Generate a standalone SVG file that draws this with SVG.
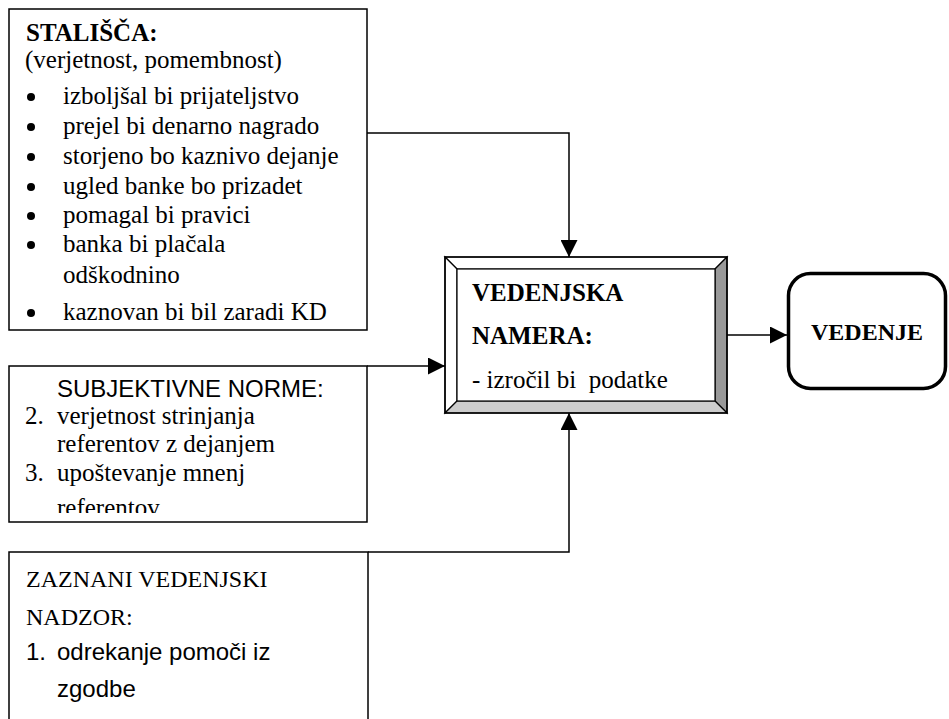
<svg xmlns="http://www.w3.org/2000/svg" width="949" height="719" viewBox="0 0 949 719">
  <style>
    .box { fill: #fff; stroke: #000; stroke-width: 1.5; }
    .serif { font-family: "Liberation Serif", "Times New Roman", serif; fill: #000; }
    .sans { font-family: "Liberation Sans", Arial, sans-serif; fill: #000; }
    .b { font-weight: bold; }
    .conn { fill: none; stroke: #000; stroke-width: 1.5; }
    .bevel { stroke: #000; stroke-width: 1.2; stroke-linejoin: miter; }
  </style>
  <defs>
    <marker id="arrow" viewBox="0 0 10 10" refX="10" refY="5" markerWidth="17" markerHeight="17" markerUnits="userSpaceOnUse" orient="auto">
      <path d="M0,0 L10,5 L0,10 Z" fill="#000"/>
    </marker>
    <clipPath id="clip2">
      <rect x="10" y="367" width="356" height="146"/>
    </clipPath>
  </defs>
  <rect width="949" height="719" fill="#fff"/>

  <g id="stalisca">
    <rect class="box" x="9" y="9" width="358" height="321"/>
    <text class="serif b" x="26" y="41" font-size="25">STALIŠČA:</text>
    <text class="serif" x="25" y="68" font-size="25">(verjetnost, pomembnost)</text>
    <g fill="#000">
      <circle cx="31" cy="97" r="4"/>
      <circle cx="31" cy="127" r="4"/>
      <circle cx="31" cy="157" r="4"/>
      <circle cx="31" cy="187" r="4"/>
      <circle cx="31" cy="216" r="4"/>
      <circle cx="31" cy="245" r="4"/>
      <circle cx="31" cy="313" r="4"/>
    </g>
    <g class="serif" font-size="25">
      <text x="63" y="104">izboljšal bi prijateljstvo</text>
      <text x="63" y="134">prejel bi denarno nagrado</text>
      <text x="63" y="164">storjeno bo kaznivo dejanje</text>
      <text x="63" y="194">ugled banke bo prizadet</text>
      <text x="63" y="223">pomagal bi pravici</text>
      <text x="63" y="252">banka bi plačala</text>
      <text x="63" y="283">odškodnino</text>
      <text x="63" y="320">kaznovan bi bil zaradi KD</text>
    </g>
  </g>

  <g id="subjektivne-norme">
    <rect class="box" x="9" y="366" width="358" height="156"/>
    <text class="sans" x="57" y="397" font-size="24">SUBJEKTIVNE NORME:</text>
    <g class="serif" font-size="25" clip-path="url(#clip2)">
      <text x="25" y="424">2.</text>
      <text x="57" y="424">verjetnost strinjanja</text>
      <text x="57" y="452">referentov z dejanjem</text>
      <text x="25" y="481">3.</text>
      <text x="57" y="481">upoštevanje mnenj</text>
      <text x="57" y="516">referentov</text>
    </g>
  </g>

  <g id="zaznani-nadzor">
    <rect class="box" x="9" y="552" width="359" height="200"/>
    <text class="serif" x="26" y="587" font-size="24">ZAZNANI VEDENJSKI</text>
    <text class="serif" x="26" y="625" font-size="24">NADZOR:</text>
    <text class="sans" x="26" y="660" font-size="24">1.</text>
    <text class="sans" x="57" y="660" font-size="24">odrekanje pomoči iz</text>
    <text class="sans" x="57" y="697" font-size="24">zgodbe</text>
  </g>

  <g id="vedenjska-namera">
    <rect x="445" y="257" width="282" height="156" fill="#fff"/>
    <polygon class="bevel" points="445,257 727,257 715,269 457,269" fill="#fff"/>
    <polygon class="bevel" points="445,257 457,269 457,401 445,413" fill="#fff"/>
    <polygon class="bevel" points="727,257 727,413 715,401 715,269" fill="#999"/>
    <polygon class="bevel" points="445,413 457,401 715,401 727,413" fill="#ccc"/>
    <rect x="457" y="269" width="258" height="132" fill="#fff" stroke="#000" stroke-width="1.2"/>
    <rect x="445" y="257" width="282" height="156" fill="none" stroke="#000" stroke-width="1.5"/>
    <text class="serif b" x="472" y="301" font-size="25">VEDENJSKA</text>
    <text class="serif b" x="472" y="344" font-size="25">NAMERA:</text>
    <text class="serif" x="472" y="388" font-size="25" xml:space="preserve">- izročil bi  podatke</text>
  </g>

  <g id="vedenje">
    <rect x="788.5" y="273.5" width="157" height="115" rx="22" ry="22" fill="#fff" stroke="#000" stroke-width="3.5"/>
    <text class="serif b" x="811" y="340" font-size="24">VEDENJE</text>
  </g>

  <g id="connectors">
    <polyline class="conn" points="367,133 569,133 569,257" marker-end="url(#arrow)"/>
    <polyline class="conn" points="367,366 445,366" marker-end="url(#arrow)"/>
    <polyline class="conn" points="368,552 569,552 569,413" marker-end="url(#arrow)"/>
    <polyline class="conn" points="727,335 787,335" marker-end="url(#arrow)"/>
  </g>
</svg>
